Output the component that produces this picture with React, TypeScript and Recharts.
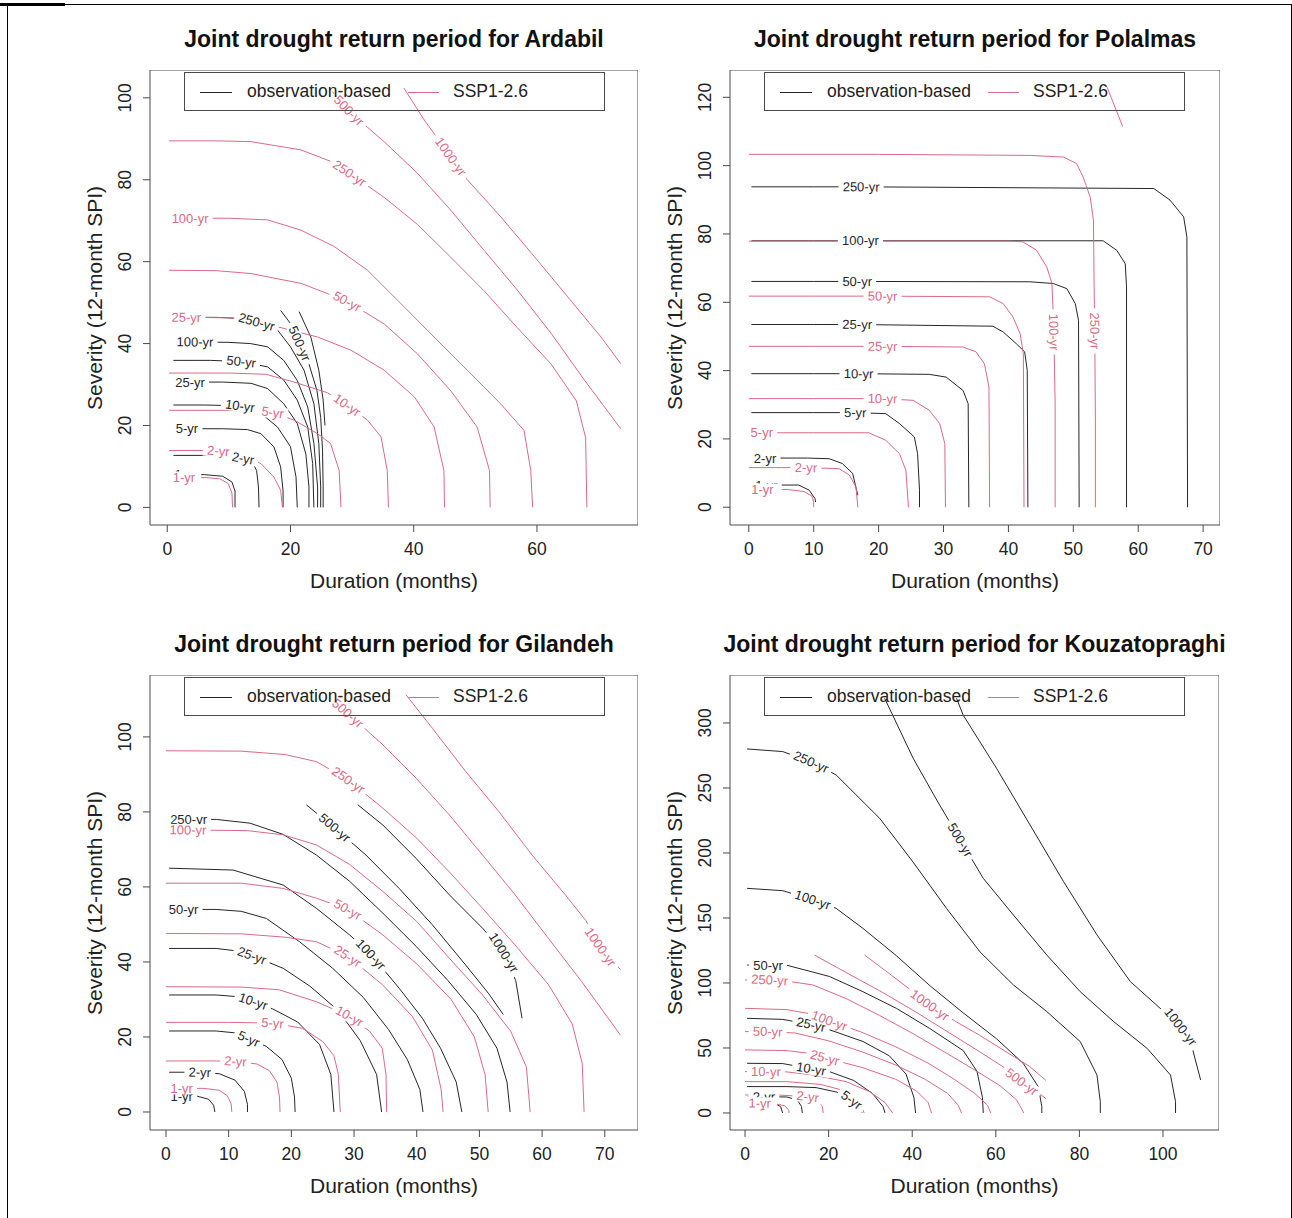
import { LineChart, Line, XAxis, YAxis, ReferenceArea } from 'recharts'

type Pt = [number, number]
interface Contour { rp: string; at: number; pts: Pt[] }

// ---- Ardabil ----
const ARDABIL_OBS: Contour[] = [
  { rp: '1-yr', at: 1, pts: [[1, 8], [3, 8], [6, 8], [9, 7.6], [10.5, 6.2], [11, 4], [11, 0]] },
  { rp: '2-yr', at: 2, pts: [[1, 12.7], [8, 12.7], [12.3, 12.0], [13.8, 11.1], [14.5, 9], [14.8, 5], [14.9, 0]] },
  { rp: '5-yr', at: 1, pts: [[1, 19.2], [3.2, 19.2], [9, 19.2], [13, 19], [15.2, 18], [17.3, 14.8], [18.4, 9.9], [18.8, 4], [18.8, 0]] },
  { rp: '10-yr', at: 2, pts: [[1, 25], [6, 25], [11.8, 24.8], [15.2, 23], [17.9, 19.6], [20, 14.8], [20.9, 7.4], [21.1, 0]] },
  { rp: '25-yr', at: 1, pts: [[1, 30.6], [3.7, 30.6], [9, 30.6], [13.6, 30.3], [16.3, 29], [18.9, 25.3], [21.1, 20.5], [22.5, 13], [23, 5], [23, 0]] },
  { rp: '50-yr', at: 2, pts: [[1, 35.9], [7, 35.9], [12, 35.6], [16.3, 34.3], [18.9, 31.1], [21.1, 26.2], [22.8, 19.6], [23.6, 10.7], [23.8, 0]] },
  { rp: '100-yr', at: 1, pts: [[1, 40.4], [4.5, 40.4], [10, 40.3], [13.5, 40], [16.3, 39.2], [18.9, 35.9], [21.1, 31], [22.8, 24.5], [23.8, 15.6], [24.4, 5], [24.4, 0]] },
  { rp: '250-yr', at: 3, pts: [[1, 46.4], [8, 46.4], [11, 46.2], [14.5, 45.3], [17.9, 43.3], [20, 39.2], [22.2, 33.5], [23.8, 25.3], [24.6, 15.6], [24.9, 5], [24.9, 0]] },
  { rp: '500-yr', at: 2, pts: [[18.4, 48.1], [20.2, 44.5], [21.5, 40], [23, 35], [24.3, 28.5], [24.9, 22], [25.2, 14], [25.3, 5], [25.3, 0]] },
  { rp: '1000-yr', at: -1, pts: [[21.4, 47.8], [23.3, 41.6], [24.6, 33.5], [25.3, 26.2], [25.6, 20]] },
]
const ARDABIL_SSP: Contour[] = [
  { rp: '1-yr', at: 1, pts: [[0.3, 7.3], [2.7, 7.3], [6, 7.3], [8.5, 7], [9.9, 5.8], [10.5, 3.5], [10.6, 0]] },
  { rp: '2-yr', at: 2, pts: [[0.3, 13.9], [5, 13.9], [8.3, 13.8], [12, 13], [15.2, 10.7], [17.3, 7.4], [18.4, 4.2], [18.7, 0]] },
  { rp: '5-yr', at: 2, pts: [[0.3, 23.7], [10, 23.7], [17.1, 23.2], [20.6, 21.3], [24.4, 18], [26.5, 15.6], [27.9, 9], [28.2, 0]] },
  { rp: '10-yr', at: 5, pts: [[0.3, 32.8], [10, 32.8], [16, 32.5], [20.6, 30.6], [26, 28], [29.2, 25], [32.5, 21.3], [34.7, 17.2], [35.7, 9], [35.9, 0]] },
  { rp: '25-yr', at: 1, pts: [[0.3, 46.4], [3.1, 46.4], [10, 46.3], [14.5, 45.3], [17.9, 44.1], [24.4, 41.6], [29.8, 38.4], [35.2, 33.5], [40.1, 27], [43.3, 19.7], [44.9, 9], [45, 0]] },
  { rp: '50-yr', at: 5, pts: [[0.3, 57.9], [8, 57.8], [13.6, 57.1], [21.7, 54.7], [26, 52.2], [29.2, 50.3], [35.2, 44.8], [40.6, 37.5], [46, 28.5], [50.3, 19.6], [52.3, 9], [52.4, 0]] },
  { rp: '100-yr', at: 1, pts: [[0.3, 70.6], [3.7, 70.6], [10, 70.6], [16.3, 70.2], [21.7, 67.7], [27.1, 63.7], [32.5, 57.9], [37.9, 49.8], [43.3, 41.6], [48.7, 33.5], [54.1, 25.3], [57.9, 18.8], [59, 9], [59.3, 0]] },
  { rp: '250-yr', at: 5, pts: [[0.3, 89.5], [8, 89.5], [13.6, 89.3], [21.7, 87.3], [26.5, 84.5], [29.6, 81.6], [35.2, 75.7], [40.6, 69.1], [46, 61.1], [51.4, 52.9], [56.8, 43.9], [62.3, 35], [66.4, 26], [67.9, 17], [68.1, 0]] },
  { rp: '500-yr', at: 1, pts: [[26.8, 101.5], [29.5, 96.9], [32.5, 92.8], [35.2, 89.3], [40.6, 81.6], [46, 72.6], [51.4, 62.8], [56.8, 53.1], [62.3, 42.5], [67.7, 31.1], [73.6, 19.2]] },
  { rp: '1000-yr', at: 2, pts: [[38.4, 102.4], [41.7, 94.6], [46, 85.7], [48.7, 80], [54.1, 71], [59.6, 61.2], [65, 51.4], [70.4, 41.6], [73.6, 35.1]] },
]

// ---- Polalmas ----
const POLALMAS_OBS: Contour[] = [
  { rp: '1-yr', at: 1, pts: [[0.4, 6.5], [2.7, 6.5], [7.7, 6.5], [9.3, 5], [10.2, 2.5], [10.3, 1.5]] },
  { rp: '2-yr', at: 1, pts: [[0.4, 14.4], [2.5, 14.4], [9, 14.4], [12.4, 14.2], [14.4, 12.8], [16, 9.9], [16.6, 5], [16.8, 3.5]] },
  { rp: '5-yr', at: 2, pts: [[0.4, 27.7], [10, 27.7], [16.4, 27.7], [21.1, 27.4], [23.2, 24.5], [25.5, 20.6], [26, 15.7], [26.3, 5], [26.3, 0]] },
  { rp: '10-yr', at: 2, pts: [[0.4, 39.1], [10, 39.1], [16.9, 39.1], [27.8, 38.9], [30.4, 38.1], [33, 34.2], [33.8, 30.3], [33.9, 0]] },
  { rp: '25-yr', at: 2, pts: [[0.4, 53.5], [10, 53.5], [16.7, 53.5], [37.6, 53], [39.2, 51.3], [41.2, 47.9], [42.5, 45.5], [42.9, 40.1], [43, 0]] },
  { rp: '50-yr', at: 2, pts: [[0.4, 66.1], [10, 66.1], [16.7, 66.1], [43.3, 66], [46.9, 65.5], [49, 64], [50.3, 59.6], [50.8, 54.7], [50.9, 0]] },
  { rp: '100-yr', at: 2, pts: [[0.4, 78], [10, 78], [17.2, 78], [54.6, 78], [56.7, 75.2], [58, 71.3], [58.2, 64.5], [58.2, 0]] },
  { rp: '250-yr', at: 2, pts: [[0.4, 93.8], [10, 93.8], [17.3, 93.8], [62.4, 93.3], [64.9, 89.9], [67, 85], [67.5, 79.1], [67.6, 0]] },
]
const POLALMAS_SSP: Contour[] = [
  { rp: '1-yr', at: 1, pts: [[0, 5.2], [2.1, 5.2], [6, 5.2], [8.5, 4.6], [9.7, 3.3], [10, 1.5], [10, 0]] },
  { rp: '2-yr', at: 2, pts: [[0, 11.6], [5, 11.6], [8.8, 11.6], [13.9, 11.3], [15.5, 9.4], [16.5, 6], [16.8, 0]] },
  { rp: '5-yr', at: 1, pts: [[0, 21.8], [2, 21.8], [10, 21.8], [18.5, 21.8], [21.1, 19.6], [23.2, 15.7], [24.2, 10.8], [24.6, 0]] },
  { rp: '10-yr', at: 2, pts: [[0, 31.8], [10, 31.8], [20.6, 31.8], [25.3, 31.3], [27.8, 28.4], [29.4, 24.5], [30.2, 18.6], [30.3, 0]] },
  { rp: '25-yr', at: 2, pts: [[0, 47.1], [10, 47.1], [20.6, 47.1], [33, 46.9], [35, 45.5], [36.3, 42], [37, 35.2], [37.1, 0]] },
  { rp: '50-yr', at: 2, pts: [[0, 61.8], [10, 61.8], [20.6, 61.8], [37.1, 61.6], [39.2, 59.6], [40.7, 55.7], [41.8, 50.8], [42.3, 45], [42.4, 0]] },
  { rp: '100-yr', at: 8, pts: [[0, 77.9], [20, 77.9], [40, 77.9], [42.2, 77.7], [44.3, 75.3], [45.9, 70.4], [46.7, 65.5], [46.9, 56.8], [47, 51.3], [47.2, 30], [47.2, 0]] },
  { rp: '250-yr', at: 9, pts: [[0, 103.3], [20, 103.3], [43.3, 103], [48.5, 102.5], [50.5, 100.6], [51.5, 96.7], [52.6, 90.8], [53.1, 84], [53.2, 65], [53.3, 51.6], [53.4, 25], [53.4, 0]] },
  { rp: '500-yr', at: -1, pts: [[55.2, 123], [57.6, 111.5]] },
]

// ---- Gilandeh ----
const GILANDEH_OBS: Contour[] = [
  { rp: '1-yr', at: 1, pts: [[0.5, 4.2], [2.5, 4.2], [5, 4.2], [6.8, 3.4], [7.6, 1.8], [7.8, 0]] },
  { rp: '2-yr', at: 1, pts: [[0.5, 10.6], [5.4, 10.6], [8.5, 10.2], [11, 8.5], [12.5, 5.5], [13, 2], [13, 0]] },
  { rp: '5-yr', at: 3, pts: [[0.5, 21.6], [8, 21.6], [11, 21.1], [13.2, 19.5], [16, 17.5], [18.5, 14], [20, 9], [20.5, 4], [20.6, 0]] },
  { rp: '10-yr', at: 3, pts: [[0.5, 31.2], [8, 31.2], [11, 30.8], [13.9, 29.5], [17, 27.5], [21, 24], [24.5, 18], [26.3, 10], [26.8, 0]] },
  { rp: '25-yr', at: 3, pts: [[0.5, 43.6], [8, 43.6], [11, 43], [13.7, 41.7], [18.7, 38.3], [23, 33.5], [27.5, 27], [31, 19], [33.6, 10], [34.4, 0]] },
  { rp: '50-yr', at: 1, pts: [[0.5, 54], [2.8, 54], [8, 54], [12, 53.5], [16, 51.6], [21.3, 45.4], [26.6, 38.3], [31.5, 30.5], [35.5, 22], [38.5, 14], [40.5, 6], [41, 0]] },
  { rp: '100-yr', at: 5, pts: [[0.5, 65], [10.7, 64.5], [18.7, 60.5], [24, 54.3], [29.3, 47.2], [32.7, 42], [37.2, 33], [40.9, 25], [43.8, 17], [46.3, 8], [47.2, 0]] },
  { rp: '250-yr', at: 1, pts: [[0.5, 78], [3.6, 78], [8, 78], [13.4, 77], [18.7, 74], [24, 68.5], [29.3, 61.5], [34.6, 53], [40, 44], [45, 35], [49.5, 26], [52.8, 17], [54.4, 8], [54.9, 0]] },
  { rp: '500-yr', at: 2, pts: [[22.4, 81.9], [24.5, 79], [26.9, 75.8], [31.9, 68.5], [37.2, 59.6], [42.5, 49.9], [47.8, 39.2], [51.5, 31.5], [53.8, 26]] },
  { rp: '1000-yr', at: 5, pts: [[30.6, 81.9], [34.6, 76.5], [39.9, 67.6], [45.2, 57.9], [50.5, 49], [53.9, 42.5], [55.8, 35], [56.8, 25]] },
]
const GILANDEH_SSP: Contour[] = [
  { rp: '1-yr', at: 1, pts: [[0, 6.3], [2.5, 6.3], [6, 6.3], [8.5, 5.8], [9.8, 4.3], [10.4, 2.2], [10.5, 0]] },
  { rp: '2-yr', at: 2, pts: [[0, 13.6], [8, 13.6], [11.1, 13.5], [14.5, 12.8], [16.5, 11], [17.7, 8], [18.1, 4], [18.2, 0]] },
  { rp: '5-yr', at: 2, pts: [[0, 23.9], [10, 23.9], [17, 23.7], [21.8, 22.3], [25, 18.8], [26.8, 15], [27.5, 10], [27.8, 0]] },
  { rp: '10-yr', at: 4, pts: [[0, 33.4], [12, 33.3], [18, 32.6], [24, 29.4], [29.3, 25.5], [32.5, 21.5], [34.5, 17], [35.1, 10], [35.2, 0]] },
  { rp: '25-yr', at: 4, pts: [[0, 47.6], [12, 47.5], [19, 46.6], [24, 45.4], [29, 41.5], [34.5, 34], [39.3, 25.5], [42.5, 16.5], [43.9, 6], [44.2, 0]] },
  { rp: '50-yr', at: 4, pts: [[0, 61], [12, 61], [18.7, 59.6], [24, 57], [29, 54], [34.6, 47.2], [40, 39.5], [45.5, 30], [49.2, 20], [50.9, 10], [51.4, 0]] },
  { rp: '100-yr', at: 1, pts: [[0, 75.2], [3.5, 75.2], [13, 75], [18.7, 73.9], [24, 71.2], [29.3, 66], [34.6, 58.8], [40, 50.8], [45.2, 41], [50.5, 31.2], [55, 21.5], [57.5, 12], [58.1, 0]] },
  { rp: '250-yr', at: 4, pts: [[0, 96.3], [12, 96.2], [19, 95.3], [24, 93.4], [29.1, 88.5], [34.6, 81], [40, 73], [45.2, 64], [50.5, 54.3], [55.7, 44.5], [61, 34], [64.8, 23.5], [66.4, 13], [66.7, 0]] },
  { rp: '500-yr', at: 1, pts: [[26.1, 110.3], [29, 106.3], [34.6, 97.9], [39.9, 89], [45.2, 79.2], [50.5, 68.5], [55.7, 57.9], [61, 46.3], [66.3, 34.8], [72.5, 20.5]] },
  { rp: '1000-yr', at: 7, pts: [[38.3, 111.2], [42.5, 102.3], [47.8, 90.8], [53.1, 80.1], [58.4, 68.5], [63.7, 57.9], [67, 51], [69.3, 44], [72.5, 38]] },
]

// ---- Kouzatopraghi ----
const KOUZA_OBS: Contour[] = [
  { rp: '1-yr', at: 1, pts: [[0.5, 8], [4, 8], [7, 7.5], [8.5, 5], [9, 0]] },
  { rp: '2-yr', at: 1, pts: [[0.5, 12.5], [4.5, 12.5], [10, 12.3], [12.5, 10], [13.5, 5], [13.7, 0]] },
  { rp: '5-yr', at: 4, pts: [[0.5, 20.3], [10, 20.3], [17, 19.5], [22, 16], [25.5, 10], [27.2, 4], [28, 0]] },
  { rp: '10-yr', at: 2, pts: [[0.5, 38.2], [9, 38], [15.8, 34], [20.2, 31.8], [26, 25], [30.5, 15], [33, 5], [33.5, 0]] },
  { rp: '25-yr', at: 2, pts: [[0.5, 72.8], [9, 72], [15.8, 68], [20.2, 64], [28.2, 55], [34.5, 44], [38.5, 30], [40.4, 12], [40.8, 0]] },
  { rp: '50-yr', at: 1, pts: [[0.5, 113.8], [5.5, 113.8], [9.8, 113.8], [20.2, 105], [28.2, 93.3], [36.2, 80.5], [44.2, 65], [52.2, 48], [55.5, 32], [56.8, 12], [57, 0]] },
  { rp: '100-yr', at: 2, pts: [[0.5, 172.8], [9, 171], [16.2, 164], [21.8, 157.4], [28.2, 142], [36.2, 121], [44.2, 98], [52.2, 77], [60.2, 57], [66.6, 38], [70.2, 20], [71, 5], [71, 0]] },
  { rp: '250-yr', at: 2, pts: [[0.5, 280], [9, 278], [15.8, 270], [21.8, 260], [32.2, 226.7], [40.2, 193], [48.2, 157.4], [56.2, 124], [64.2, 98.5], [72.2, 78], [80.2, 54.9], [84.2, 29.2], [85, 8.7], [85, 0]] },
  { rp: '500-yr', at: 3, pts: [[33.4, 319], [40.2, 273], [46, 240], [51.5, 210], [57, 180.5], [64.2, 152.3], [72.2, 121.5], [80.2, 93.3], [88.2, 70.3], [96.2, 49.7], [101.8, 29.2], [103, 8.7], [103, 0]] },
  { rp: '1000-yr', at: 8, pts: [[50.6, 319], [52.2, 306], [60.2, 265], [68.2, 221.5], [76.2, 178], [84.2, 137], [92.2, 101], [100.2, 78], [104.2, 66.4], [107, 50], [109, 25.4]] },
]
const KOUZA_SSP: Contour[] = [
  { rp: '1-yr', at: 1, pts: [[0, 7.5], [3.5, 7.5], [7, 7.2], [9.5, 5.5], [10.5, 2], [10.5, 0]] },
  { rp: '2-yr', at: 2, pts: [[0, 13.8], [8, 13.8], [15, 12.5], [17.5, 10], [18.5, 5], [18.7, 0]] },
  { rp: '5-yr', at: -1, pts: [[0, 24.1], [10, 24.1], [18, 22], [24, 17], [27.3, 10], [28.5, 0]] },
  { rp: '10-yr', at: 1, pts: [[0, 31.8], [5, 31.8], [10, 31.6], [16.2, 29.2], [24.2, 24.1], [29.8, 16.4], [33.5, 8], [35.3, 0]] },
  { rp: '25-yr', at: 3, pts: [[0, 48.5], [10, 48], [15, 46], [19.1, 42.5], [28, 35], [36, 26], [41, 17], [43.8, 8], [44.6, 0]] },
  { rp: '50-yr', at: 1, pts: [[0, 62.6], [5.4, 62.6], [12, 61.5], [20, 55.5], [28, 47], [36, 37], [43, 26], [48.5, 15], [51, 6], [51.8, 0]] },
  { rp: '100-yr', at: 3, pts: [[0, 80.5], [10, 79.5], [16, 76], [20.2, 71], [28, 62], [36, 51], [44, 38], [50, 26], [55, 15], [58, 6], [58.8, 0]] },
  { rp: '250-yr', at: 1, pts: [[0, 102.3], [5.9, 102.3], [12, 100.5], [16.2, 98.5], [24.2, 88], [32.2, 75], [40.2, 61], [48.2, 46], [55, 33], [61, 21], [65, 10], [66.7, 0]] },
  { rp: '500-yr', at: 7, pts: [[16.6, 121.5], [24.2, 108], [32.2, 94], [40.2, 79], [48.2, 63], [56.2, 47], [62, 35], [66.2, 24], [70, 16], [72, 11]] },
  { rp: '1000-yr', at: 3, pts: [[28.6, 121.5], [34.6, 107], [39.5, 95], [44.2, 83], [50.6, 70], [56, 60], [62, 48], [68, 36], [72, 25]] },
]

const X_TICKS_A = [0, 20, 40, 60]
const Y_TICKS_A = [0, 20, 40, 60, 80, 100]
const X_TICKS_B = [0, 10, 20, 30, 40, 50, 60, 70]
const Y_TICKS_B = [0, 20, 40, 60, 80, 100, 120]
const X_TICKS_C = [0, 10, 20, 30, 40, 50, 60, 70]
const Y_TICKS_C = [0, 20, 40, 60, 80, 100]
const X_TICKS_D = [0, 20, 40, 60, 80, 100]
const Y_TICKS_D = [0, 50, 100, 150, 200, 250, 300]

const OBS_COLOR = '#262626'
const SSP_COLOR = '#DB6A83'
const AXIS_COLOR = '#4a4a4a'
const FONT = '"Liberation Sans", Arial, Helvetica, sans-serif'
const YW = 60
const XH = 40

interface PanelDef {
  title: string
  left: number
  top: number
  width: number
  height: number
  xDomain: [number, number]
  yDomain: [number, number]
  xTicks: number[]
  yTicks: number[]
  obs: Contour[]
  ssp: Contour[]
}

const PANELS: PanelDef[] = [
  { title: 'Joint drought return period for Ardabil', left: 150, top: 70, width: 488, height: 455,
    xDomain: [-2.8, 76.4], yDomain: [-4.3, 106.8], xTicks: X_TICKS_A, yTicks: Y_TICKS_A, obs: ARDABIL_OBS, ssp: ARDABIL_SSP },
  { title: 'Joint drought return period for Polalmas', left: 730, top: 70, width: 490, height: 455,
    xDomain: [-2.9, 72.6], yDomain: [-5.2, 128], xTicks: X_TICKS_B, yTicks: Y_TICKS_B, obs: POLALMAS_OBS, ssp: POLALMAS_SSP },
  { title: 'Joint drought return period for Gilandeh', left: 150, top: 675, width: 488, height: 455,
    xDomain: [-2.55, 75.3], yDomain: [-4.8, 116.5], xTicks: X_TICKS_C, yTicks: Y_TICKS_C, obs: GILANDEH_OBS, ssp: GILANDEH_SSP },
  { title: 'Joint drought return period for Kouzatopraghi', left: 730, top: 675, width: 489, height: 455,
    xDomain: [-3.6, 113.4], yDomain: [-13.1, 336.9], xTicks: X_TICKS_D, yTicks: Y_TICKS_D, obs: KOUZA_OBS, ssp: KOUZA_SSP },
]

const toRows = (pts: Pt[]) => pts.map(([x, y]) => ({ x, y }))

// contour label drawn at point `at`, turned along the line like R's contour()
function labelDot(c: Contour, p: PanelDef, color: string) {
  const kx = p.width / (p.xDomain[1] - p.xDomain[0])
  const ky = p.height / (p.yDomain[1] - p.yDomain[0])
  return (props: any) => {
    const { cx, cy, index } = props
    if (index !== c.at || cx == null) return <g key={`d${index}`} />
    const a = c.pts[Math.max(0, index - 1)]
    const b = c.pts[Math.min(c.pts.length - 1, index + 1)]
    let ang = (Math.atan2(-(b[1] - a[1]) * ky, (b[0] - a[0]) * kx) * 180) / Math.PI
    if (ang > 90) ang -= 180
    if (ang < -90) ang += 180
    const w = c.rp.length * 7.2 + 2
    return (
      <g key={`d${index}`} transform={`translate(${cx},${cy}) rotate(${ang})`}>
        <rect x={-w / 2} y={-6} width={w} height={12} fill="#fff" />
        <text textAnchor="middle" dominantBaseline="central" fontSize={13} fontFamily={FONT} fill={color}>
          {c.rp}
        </text>
      </g>
    )
  }
}

function Panel({ p }: { p: PanelDef }) {
  const cx = p.left + p.width / 2
  const cy = p.top + p.height / 2
  return (
    <>
      <div style={{ position: 'absolute', left: cx - 300, top: p.top - 44, width: 600, textAlign: 'center',
        fontSize: 23, fontWeight: 700, fontFamily: FONT, color: '#111', lineHeight: '26px' }}>
        {p.title}
      </div>
      <div style={{ position: 'absolute', left: cx - 200, top: p.top + p.height + 44, width: 400, textAlign: 'center',
        fontSize: 21, fontFamily: FONT, color: '#222', lineHeight: '24px' }}>
        Duration (months)
      </div>
      <div style={{ position: 'absolute', left: p.left - 55 - 200, top: cy - 12, width: 400, textAlign: 'center',
        fontSize: 21, fontFamily: FONT, color: '#222', lineHeight: '24px', transform: 'rotate(-90deg)' }}>
        Severity (12-month SPI)
      </div>
      <div style={{ position: 'absolute', left: p.left - YW, top: p.top }}>
        <LineChart width={p.width + YW} height={p.height + XH} margin={{ top: 0, right: 0, bottom: 0, left: 0 }}>
          <XAxis type="number" dataKey="x" domain={p.xDomain} ticks={p.xTicks} allowDataOverflow interval={0}
            axisLine={false} tickSize={7} tickLine={{ stroke: AXIS_COLOR }} height={XH}
            tick={(t: any) => (
              <text x={t.x} y={t.y + 15} textAnchor="middle" dominantBaseline="central" fontSize={17.5}
                fontFamily={FONT} fill="#222">{t.payload.value}</text>
            )} />
          <YAxis type="number" domain={p.yDomain} ticks={p.yTicks} allowDataOverflow interval={0}
            axisLine={false} tickSize={7} tickLine={{ stroke: AXIS_COLOR }} width={YW}
            tick={(t: any) => (
              <text x={t.x - 16} y={t.y} textAnchor="middle" dominantBaseline="central" fontSize={17.5}
                fontFamily={FONT} fill="#222" transform={`rotate(-90, ${t.x - 16}, ${t.y})`}>{t.payload.value}</text>
            )} />
          <ReferenceArea x1={p.xDomain[0]} x2={p.xDomain[1]} y1={p.yDomain[0]} y2={p.yDomain[1]}
            fill="none" stroke={AXIS_COLOR} strokeWidth={1} ifOverflow="visible" />
          {p.obs.map(c => (
            <Line key={`o-${c.rp}`} data={toRows(c.pts)} dataKey="y" type="linear" stroke={OBS_COLOR}
              strokeWidth={1} dot={false} activeDot={false} isAnimationActive={false} />
          ))}
          {p.ssp.map(c => (
            <Line key={`s-${c.rp}`} data={toRows(c.pts)} dataKey="y" type="linear" stroke={SSP_COLOR}
              strokeWidth={1} dot={false} activeDot={false} isAnimationActive={false} />
          ))}
          {p.obs.filter(c => c.at >= 0).map(c => (
            <Line key={`ol-${c.rp}`} data={toRows(c.pts)} dataKey="y" stroke="none" dot={labelDot(c, p, OBS_COLOR)}
              activeDot={false} isAnimationActive={false} />
          ))}
          {p.ssp.filter(c => c.at >= 0).map(c => (
            <Line key={`sl-${c.rp}`} data={toRows(c.pts)} dataKey="y" stroke="none" dot={labelDot(c, p, SSP_COLOR)}
              activeDot={false} isAnimationActive={false} />
          ))}
        </LineChart>
      </div>
      {/* legend box, transparent like R's legend() */}
      <div style={{ position: 'absolute', left: p.left + 34, top: p.top + 2, width: 421, height: 39,
        border: `1px solid ${AXIS_COLOR}`, boxSizing: 'border-box', fontFamily: FONT, fontSize: 17.5, color: '#222' }}>
        <div style={{ position: 'absolute', left: 15, top: 19, width: 32, borderTop: `1px solid ${OBS_COLOR}` }} />
        <div style={{ position: 'absolute', left: 62, top: 8, lineHeight: '20px' }}>observation-based</div>
        <div style={{ position: 'absolute', left: 223, top: 19, width: 31, borderTop: `1px solid ${SSP_COLOR}` }} />
        <div style={{ position: 'absolute', left: 268, top: 8, lineHeight: '20px' }}>SSP1-2.6</div>
      </div>
    </>
  )
}

export default function App() {
  return (
    <div style={{ position: 'absolute', left: 0, top: 0, width: 1292, height: 1218, background: '#fff', overflow: 'hidden' }}>
      <div style={{ position: 'absolute', left: 7, top: 4, width: 1283, height: 1214,
        borderLeft: '1.5px solid #000', borderTop: '1px solid #000', borderRight: '1px solid #000' }} />
      <div style={{ position: 'absolute', left: 0, top: 3, width: 65, height: 3, background: '#000' }} />
      {PANELS.map(p => <Panel key={p.title} p={p} />)}
    </div>
  )
}
